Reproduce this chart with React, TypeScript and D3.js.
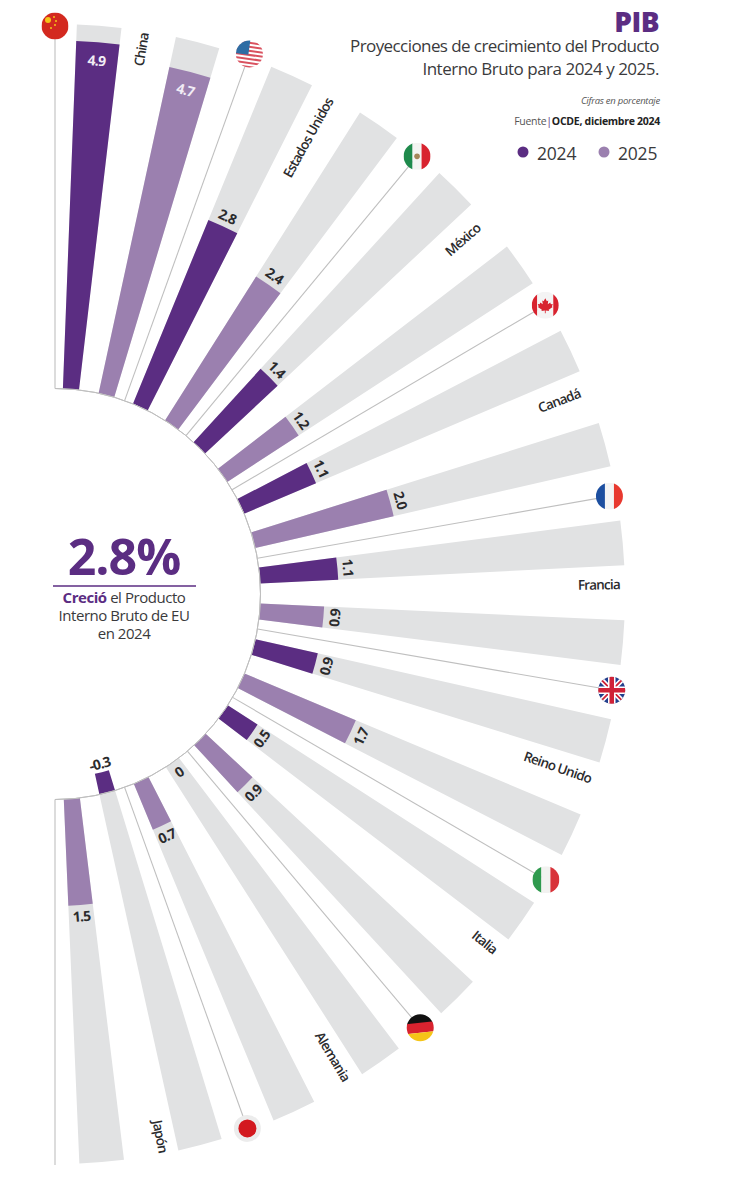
import * as d3 from 'd3';

const countries = ['China', 'Estados Unidos', 'México', 'Canadá', 'Francia', 'Reino Unido', 'Italia', 'Alemania', 'Japón'];
const flagCodes = ['cn', 'us', 'mx', 'ca', 'fr', 'gb', 'it', 'de', 'jp'];
const values2024 = [4.9, 2.8, 1.4, 1.1, 1.1, 0.9, 0.5, 0, -0.3];
const values2025 = [4.7, 2.4, 1.2, 2.0, 0.9, 1.7, 0.9, 0.7, 1.5];
const legendYears = ['2024', '2025'];

// pins and names don't sit on a perfectly regular ring in the original
const pinAngles = [0, 19.8, 39.6, 59.5, 80, 99.8, 120.2, 139.9, 160.2];
const pinRadii = [568, 574, 568, 569, 563, 565, 568, 567, 568];
const nameEnds = [568, 566, 561, 562, 565, 567, 567, 567, 569];

const DARK = '#5b2d82';
const LIGHT = '#9b80af';
const TRACK = '#e1e2e3';
const RULE = '#bfbfbf';
const INK = '#3a3a3c';
const FONT = '"Open Sans", "Noto Sans", sans-serif';

const cx = 55;
const cy = 594;
const innerR = 205.5;
const outerR = 570;
const barStep = 10.05;
const barSpan = 4.5;
const rad = (deg: number) => (deg * Math.PI) / 180;

const r = d3.scaleLinear().domain([0, 5]).range([innerR, innerR + 355]);
const arc = d3.arc();

// compass angle, 0 at the top, clockwise
const polar = (deg: number, radius: number): [number, number] => [
  cx + radius * Math.sin(rad(deg)),
  cy - radius * Math.cos(rad(deg)),
];

function wedge(start: number, end: number, r0: number, r1: number) {
  return arc({ startAngle: rad(start), endAngle: rad(end), innerRadius: r0, outerRadius: r1 }) as string;
}

function Flag({ code, x, y }: { code: string; x: number; y: number }) {
  const id = `clip-${code}`;
  const R = 13.5;
  let body = null;
  if (code === 'cn') {
    body = (
      <>
        <rect x={-R} y={-R} width={2 * R} height={2 * R} fill="#d3291f" />
        <circle cx={-7} cy={-6} r={3} fill="#f5c518" />
        <circle cx={-1} cy={-9} r={1} fill="#f5c518" />
        <circle cx={1} cy={-5} r={1} fill="#f5c518" />
        <circle cx={0} cy={-1} r={1} fill="#f5c518" />
        <circle cx={-4} cy={2} r={1} fill="#f5c518" />
      </>
    );
  } else if (code === 'us') {
    body = (
      <g transform="rotate(8)">
        <rect x={-R - 2} y={-R - 2} width={2 * R + 4} height={2 * R + 4} fill="#fff" />
        {d3.range(-12, 14, 4).map(s => (
          <rect key={s} x={-R - 2} y={s} width={2 * R + 4} height={2} fill="#d9525f" />
        ))}
        <rect x={-R - 2} y={-R - 2} width={R + 1} height={R + 3} fill="#2e6da4" />
      </g>
    );
  } else if (code === 'mx' || code === 'it' || code === 'fr' || code === 'ca') {
    const colors: Record<string, string[]> = {
      mx: ['#1f8a4c', '#f4f4f2', '#d8232f'],
      it: ['#2f9a4e', '#f2f2f0', '#d8333a'],
      fr: ['#1d4fa0', '#f4f4f4', '#e8392f'],
      ca: ['#d8232f', '#f4f4f4', '#d8232f'],
    };
    const w = code === 'ca' ? [-R, -8, 8] : [-R, -4.5, 4.5];
    const widths = code === 'ca' ? [5.5, 16, 5.5] : [9, 9, 9];
    body = (
      <>
        {colors[code].map((c, i) => (
          <rect key={i} x={w[i]} y={-R} width={widths[i]} height={2 * R} fill={c} />
        ))}
        {code === 'mx' && <circle r={2.8} fill="#a5865a" />}
        {code === 'ca' && (
          <path
            d="M0,-7 L1.6,-4 L3,-4.6 L2.5,-1 L5,-2.6 L5.6,-1 L7.5,-1.2 L6.6,1.2 L7.4,1.8 L3.4,4.6 L3.8,5.8 L0.4,5.4 L0.4,8 L-0.4,8 L-0.4,5.4 L-3.8,5.8 L-3.4,4.6 L-7.4,1.8 L-6.6,1.2 L-7.5,-1.2 L-5.6,-1 L-5,-2.6 L-2.5,-1 L-3,-4.6 L-1.6,-4 Z"
            fill="#d8232f"
          />
        )}
      </>
    );
  } else if (code === 'gb') {
    body = (
      <>
        <rect x={-R} y={-R} width={2 * R} height={2 * R} fill="#233f8c" />
        <path d="M-14,-14 L14,14 M14,-14 L-14,14" stroke="#fff" strokeWidth={5} />
        <path d="M-14,-14 L14,14 M14,-14 L-14,14" stroke="#cf2338" strokeWidth={1.8} />
        <path d="M0,-14 V14 M-14,0 H14" stroke="#fff" strokeWidth={7.5} />
        <path d="M0,-14 V14 M-14,0 H14" stroke="#cf2338" strokeWidth={4.5} />
      </>
    );
  } else if (code === 'de') {
    body = (
      <g transform="rotate(-6)">
        <rect x={-R - 2} y={-R - 2} width={2 * R + 4} height={R - 2} fill="#111" />
        <rect x={-R - 2} y={-5} width={2 * R + 4} height={10} fill="#d8232f" />
        <rect x={-R - 2} y={5} width={2 * R + 4} height={R} fill="#f5c518" />
      </g>
    );
  } else if (code === 'jp') {
    body = (
      <>
        <rect x={-R} y={-R} width={2 * R} height={2 * R} fill="#ececec" />
        <circle r={9} fill="#d3191f" />
      </>
    );
  }
  return (
    <g transform={`translate(${x},${y})`}>
      <clipPath id={id}>
        <circle r={R} />
      </clipPath>
      <g clipPath={`url(#${id})`}>{body}</g>
    </g>
  );
}

function ValueLabel({ value, angle, color, pos }: { value: number; angle: number; color: string; pos: number }) {
  const [x, y] = polar(angle, pos);
  const rotate = angle < 90 ? angle : angle - 180;
  return (
    <text
      transform={`translate(${x},${y}) rotate(${rotate})`}
      textAnchor="middle"
      dominantBaseline="central"
      fontSize={14}
      fontWeight={700}
      letterSpacing={-0.8}
      fill={color}
    >
      {value === 0 ? '0' : value.toFixed(1)}
    </text>
  );
}

function labelRadius(v: number) {
  if (v >= 4) return r(v) - 18;
  if (v < 0) return r(v) - 9;
  return r(v) + 11;
}

export default function App() {
  const bars = countries.flatMap((_, i) => [
    { value: values2024[i], start: 2.2 + 2 * i * barStep, color: DARK },
    { value: values2025[i], start: 2.2 + (2 * i + 1) * barStep, color: LIGHT },
  ]);

  return (
    <svg width={750} height={1203} style={{ position: 'absolute', left: 0, top: 0, fontFamily: FONT }}>
      <rect width={750} height={1203} fill="#fff" />

      <g transform={`translate(${cx},${cy})`}>
        {bars.map((b, i) => (
          <path key={i} d={wedge(b.start, b.start + barSpan, innerR, outerR)} fill={TRACK} />
        ))}
        {bars.map((b, i) => (
          <path key={i} d={wedge(b.start, b.start + barSpan, innerR, r(b.value))} fill={b.color} />
        ))}
        <path d={wedge(0, 180, innerR, innerR)} fill="none" stroke={RULE} strokeWidth={1} />
      </g>

      {pinAngles.map((a, i) => {
        const [x1, y1] = polar(a, innerR);
        const [x2, y2] = polar(a, pinRadii[i] - 5);
        return <line key={a} x1={x1} y1={y1} x2={x2} y2={y2} stroke={RULE} strokeWidth={1.1} />;
      })}
      <line
        x1={polar(180, innerR)[0]}
        y1={polar(180, innerR)[1]}
        x2={polar(180, outerR + 1)[0]}
        y2={polar(180, outerR + 1)[1]}
        stroke={RULE}
        strokeWidth={1.1}
      />

      {bars.map((b, i) => (
        <ValueLabel
          key={i}
          value={b.value}
          angle={b.start + barSpan / 2}
          color={b.value >= 4 ? '#f1ecf5' : '#2b2b2d'}
          pos={labelRadius(b.value)}
        />
      ))}

      {flagCodes.map((code, i) => {
        const [x, y] = polar(pinAngles[i], pinRadii[i]);
        return <Flag key={code} code={code} x={x} y={y} />;
      })}

      {countries.map((name, i) => {
        const angle = i * 20 + 9;
        const [x, y] = polar(angle, nameEnds[i]);
        return (
          <text
            key={name}
            transform={`translate(${x},${y}) rotate(${angle - 90})`}
            textAnchor="end"
            dominantBaseline="central"
            fontSize={13.5}
            fontWeight={600}
            letterSpacing={-0.8}
            fill="#2b2b2d"
          >
            {name}
          </text>
        );
      })}

      {/* center */}
      <text x={124} y={575} textAnchor="middle" fontSize={50} fontWeight={700} letterSpacing={-1} fill={DARK}>
        2.8%
      </text>
      <line x1={53} x2={196} y1={586} y2={586} stroke={DARK} strokeWidth={1.5} />
      <text x={124} y={603} textAnchor="middle" fontSize={15} letterSpacing={-0.45} fill={INK}>
        <tspan fontWeight={700} fill={DARK}>Creció</tspan> el Producto
      </text>
      <text x={124} y={621} textAnchor="middle" fontSize={15} letterSpacing={-0.45} fill={INK}>
        Interno Bruto de EU
      </text>
      <text x={124} y={639} textAnchor="middle" fontSize={15} letterSpacing={-0.45} fill={INK}>
        en 2024
      </text>

      {/* header */}
      <text x={659} y={32} textAnchor="end" fontSize={28} fontWeight={800} letterSpacing={-0.5} fill={DARK}>
        PIB
      </text>
      <text x={659} y={52} textAnchor="end" fontSize={17} letterSpacing={-0.58} fill={INK}>
        Proyecciones de crecimiento del Producto
      </text>
      <text x={659} y={75} textAnchor="end" fontSize={17} letterSpacing={-0.5} fill={INK}>
        Interno Bruto para 2024 y 2025.
      </text>
      <text x={660} y={104} textAnchor="end" fontSize={9.5} fontStyle="italic" letterSpacing={-0.25} fill="#555">
        Cifras en porcentaje
      </text>
      <text x={660} y={125} textAnchor="end" fontSize={10.5} letterSpacing={-0.28} fill="#555">
        Fuente<tspan fill={DARK}>|</tspan>
        <tspan fontWeight={700} fill="#222">OCDE, diciembre 2024</tspan>
      </text>
      {legendYears.map((year, i) => (
        <g key={year} transform={`translate(${523 + i * 81},152)`}>
          <circle r={5.5} fill={i === 0 ? DARK : LIGHT} />
          <text x={14} y={8} fontSize={17.5} letterSpacing={-0.2} fill={INK}>
            {year}
          </text>
        </g>
      ))}
    </svg>
  );
}
